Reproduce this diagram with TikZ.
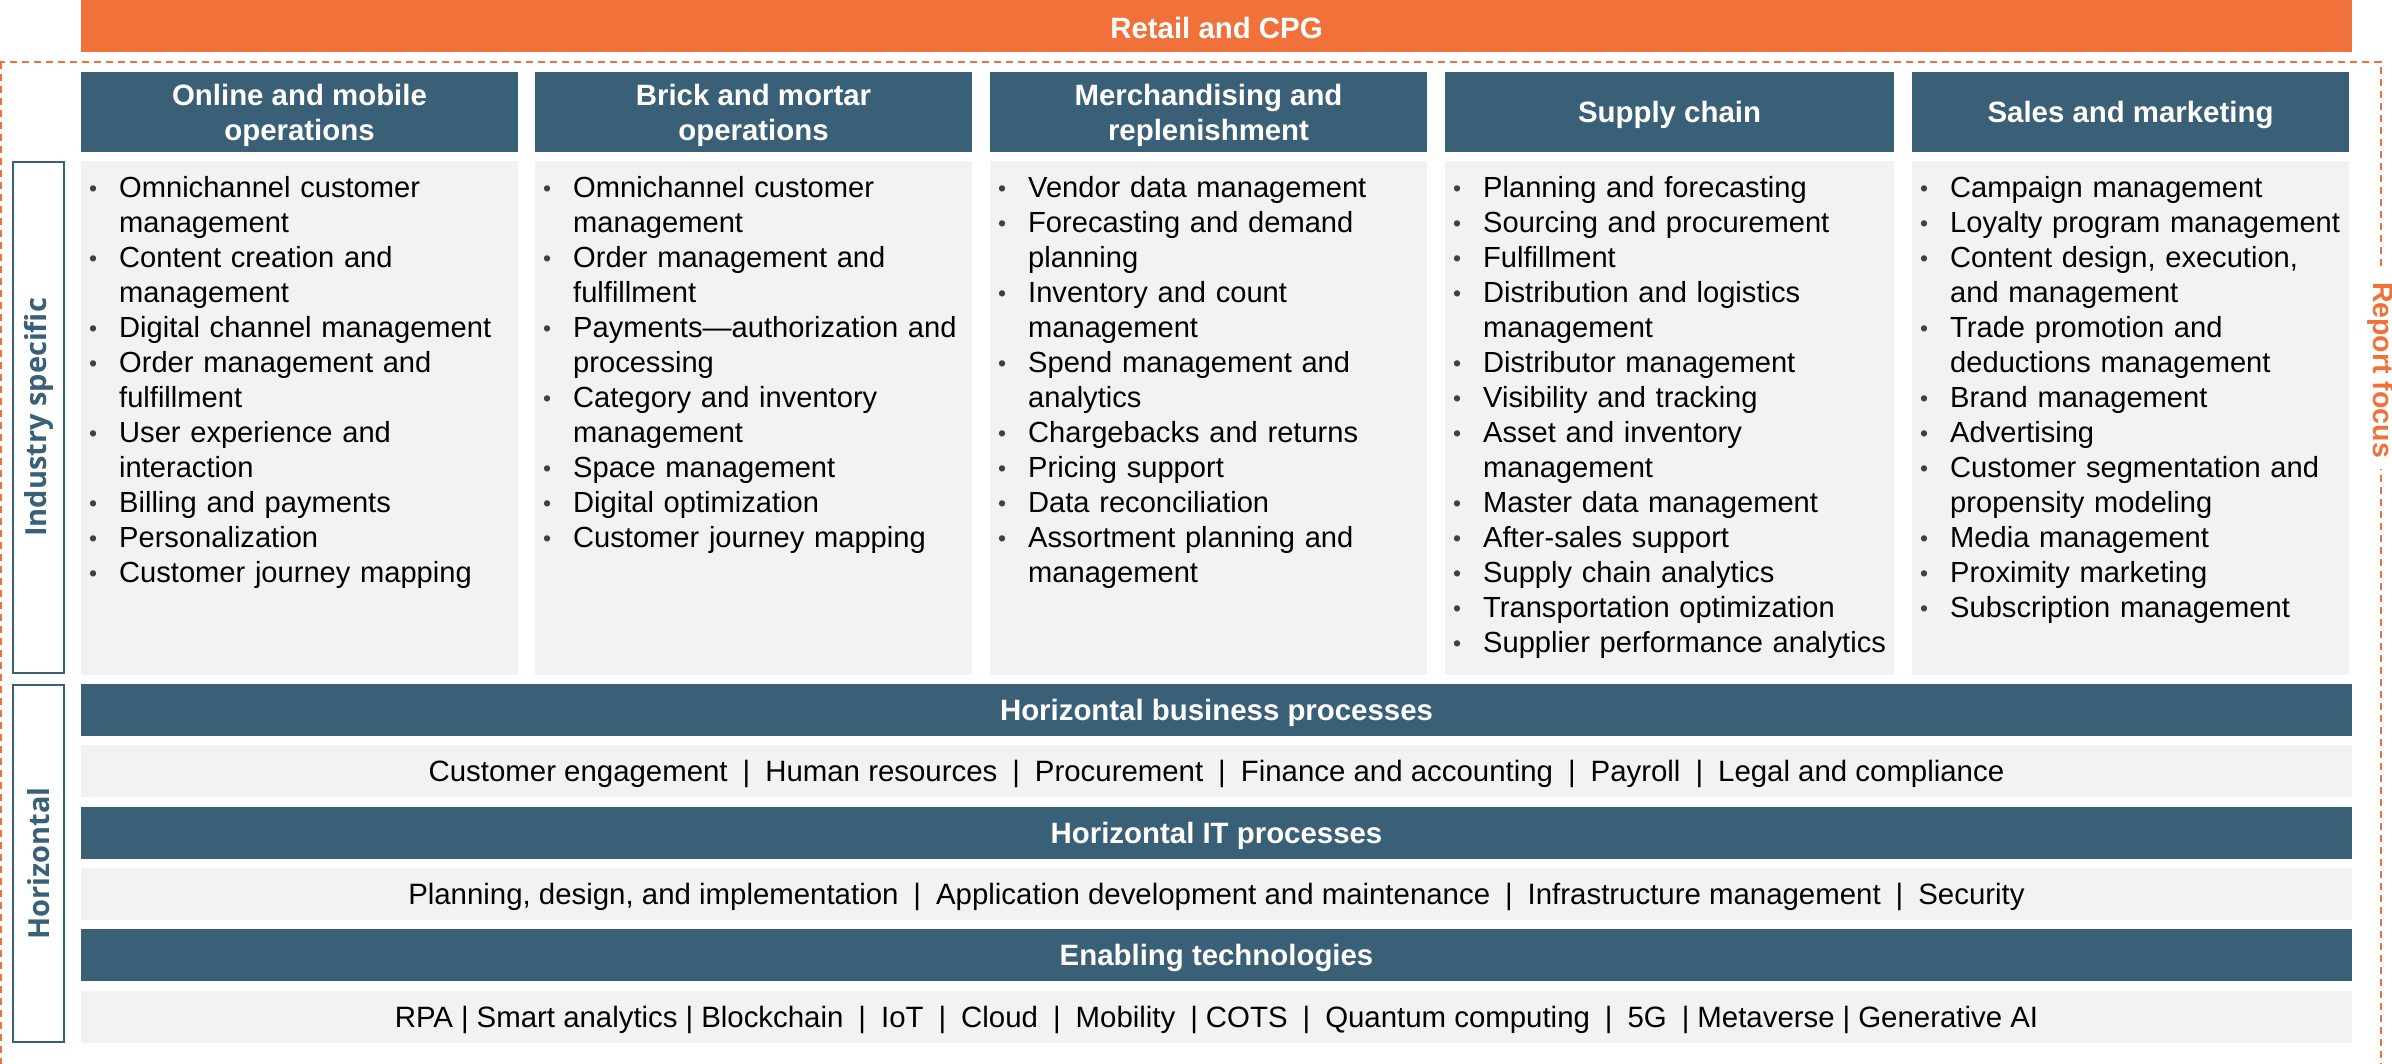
\documentclass[tikz,border=0pt]{standalone}
\usepackage{fontspec}
\setmainfont{Liberation Sans}
\newfontfamily\labelfont{Open Sans}
\definecolor{rorange}{HTML}{F0723A}
\definecolor{hblue}{HTML}{3A6078}
\definecolor{cgray}{HTML}{F2F2F2}
\definecolor{bgray}{HTML}{404040}
\newcommand{\bmark}{\makebox[30bp][l]{\rule{0pt}{25bp}\raisebox{1bp}{\textcolor{bgray}{\fontsize{23bp}{23bp}\selectfont\textbullet}}}}
\newcommand{\bfirst}{\hangindent=30bp\hangafter=1\noindent\bmark}
\newcommand{\bitem}{\par\hangindent=30bp\hangafter=1\noindent\bmark}
\newcommand{\sep}{\hspace{15bp}|\hspace{15bp}}
\newcommand{\ssep}{\hspace{8bp}|\hspace{8bp}}
\newcommand{\fsz}{\fontsize{29.4bp}{35bp}\selectfont}
\newcommand{\csz}{\fontsize{29.1bp}{35bp}\selectfont}
\begin{document}
\begin{tikzpicture}[x=1bp,y=-1bp,
  topbar/.style={fill=rorange,inner sep=0,minimum width=2271bp,minimum height=52bp},
  hdrbox/.style={fill=hblue,inner sep=0,minimum height=80bp},
  wtext/.style={text=white,inner sep=0,align=center,font=\fsz\bfseries},
  cbox/.style={fill=cgray,inner sep=0,minimum height=514bp,anchor=north west},
  ctext/.style={inner sep=0,anchor=north west,text width=445bp,align=left,font=\csz},
  hbar/.style={fill=hblue,inner sep=0,minimum width=2271bp,minimum height=52bp},
  grayrow/.style={fill=cgray,inner sep=0,minimum width=2271bp,minimum height=52bp},
  rtext/.style={text=black,inner sep=0,font=\fsz},
  labbox/.style={draw=hblue,line width=2bp,fill=white,inner sep=0,minimum width=51bp},
  labtext/.style={rotate=90,text=hblue,inner sep=0,font=\fontsize{29bp}{35bp}\labelfont\bfseries},
  dashrect/.style={draw=rorange,line width=2bp,dash pattern=on 7bp off 5bp},
  focus/.style={rotate=-90,fill=white,text=rorange,inner xsep=11bp,inner ysep=2bp,font=\fontsize{28.5bp}{35bp}\selectfont\bfseries}
]
\useasboundingbox (0,0) rectangle (2392,1063);
\fill[white] (0,0) rectangle (2392,1063);
% report focus frame
\draw[dashrect] (0.5,62) rectangle (2381,1080);
\node[focus] (focus) at (2381,370) {Report focus};
% top bar
\node[topbar] (retail) at (1216.5,26) {};
\node[wtext] (retailt) at ([yshift=-2bp]retail.center) {Retail and CPG};
% headers
\node[hdrbox,minimum width=437bp] (h1) at (299.5,112) {};
\node[hdrbox,minimum width=437bp] (h2) at (753.5,112) {};
\node[hdrbox,minimum width=437bp] (h3) at (1208.5,112) {};
\node[hdrbox,minimum width=449bp] (h4) at (1669.5,112) {};
\node[hdrbox,minimum width=437bp] (h5) at (2130.5,112) {};
\node[wtext] (h1t) at ([yshift=-3bp]h1.center) {Online and mobile\\operations};
\node[wtext] (h2t) at ([yshift=-3bp]h2.center) {Brick and mortar\\operations};
\node[wtext] (h3t) at ([yshift=-3bp]h3.center) {Merchandising and\\replenishment};
\node[wtext] (h4t) at ([yshift=-3bp]h4.center) {Supply chain};
\node[wtext] (h5t) at ([yshift=-3bp]h5.center) {Sales and marketing};
% content boxes
\node[cbox,minimum width=437bp] (b1) at (81,161) {};
\node[cbox,minimum width=437bp] (b2) at (535,161) {};
\node[cbox,minimum width=437bp] (b3) at (990,161) {};
\node[cbox,minimum width=449bp] (b4) at (1445,161) {};
\node[cbox,minimum width=437bp] (b5) at (1912,161) {};
% content text
\node[ctext] (t1) at (89,172) {%
\bfirst Omnichannel customer\newline management
\bitem Content creation and\newline management
\bitem Digital channel management
\bitem Order management and\newline fulfillment
\bitem User experience and\newline interaction
\bitem Billing and payments
\bitem Personalization
\bitem Customer journey mapping\par};
\node[ctext] (t2) at (543,172) {%
\bfirst Omnichannel customer\newline management
\bitem Order management and\newline fulfillment
\bitem Payments—authorization and\newline processing
\bitem Category and inventory\newline management
\bitem Space management
\bitem Digital optimization
\bitem Customer journey mapping\par};
\node[ctext] (t3) at (998,172) {%
\bfirst Vendor data management
\bitem Forecasting and demand\newline planning
\bitem Inventory and count\newline management
\bitem Spend management and\newline analytics
\bitem Chargebacks and returns
\bitem Pricing support
\bitem Data reconciliation
\bitem Assortment planning and\newline management\par};
\node[ctext] (t4) at (1453,172) {%
\bfirst Planning and forecasting
\bitem Sourcing and procurement
\bitem Fulfillment
\bitem Distribution and logistics\newline management
\bitem Distributor management
\bitem Visibility and tracking
\bitem Asset and inventory\newline management
\bitem Master data management
\bitem After-sales support
\bitem Supply chain analytics
\bitem Transportation optimization
\bitem Supplier performance analytics\par};
\node[ctext] (t5) at (1920,172) {%
\bfirst Campaign management
\bitem Loyalty program management
\bitem Content design, execution,\newline and management
\bitem Trade promotion and\newline deductions management
\bitem Brand management
\bitem Advertising
\bitem Customer segmentation and\newline propensity modeling
\bitem Media management
\bitem Proximity marketing
\bitem Subscription management\par};
% horizontal rows
\node[hbar] (bar1) at (1216.5,710) {};
\node[grayrow] (row1) at (1216.5,771) {};
\node[hbar] (bar2) at (1216.5,833) {};
\node[grayrow] (row2) at (1216.5,894) {};
\node[hbar] (bar3) at (1216.5,955) {};
\node[grayrow] (row3) at (1216.5,1017) {};
\node[wtext] (bar1t) at ([yshift=-3bp]bar1.center) {Horizontal business processes};
\node[rtext] (row1t) at ([yshift=-3bp]row1.center) {Customer engagement\sep Human resources\sep Procurement\sep Finance and accounting\sep Payroll\sep Legal and compliance};
\node[wtext] (bar2t) at ([yshift=-3bp]bar2.center) {Horizontal IT processes};
\node[rtext] (row2t) at ([yshift=-3bp]row2.center) {Planning, design, and implementation\sep Application development and maintenance\sep Infrastructure management\sep Security};
\node[wtext] (bar3t) at ([yshift=-3bp]bar3.center) {Enabling technologies};
\node[rtext] (row3t) at ([yshift=-3bp]row3.center) {RPA\ssep Smart analytics\ssep Blockchain\sep IoT\sep Cloud\sep Mobility\hspace{15bp}|\hspace{8bp}COTS\sep Quantum computing\sep 5G\hspace{15bp}|\hspace{8bp}Metaverse\ssep Generative AI};
% side labels
\node[labbox,minimum height=511bp] (lab1) at (38.5,417.5) {};
\node[labtext] (lab1t) at (lab1.center) {Industry specific};
\node[labbox,minimum height=357bp] (lab2) at (38.5,863.5) {};
\node[labtext] (lab2t) at (lab2.center) {Horizontal};
\end{tikzpicture}
\end{document}
